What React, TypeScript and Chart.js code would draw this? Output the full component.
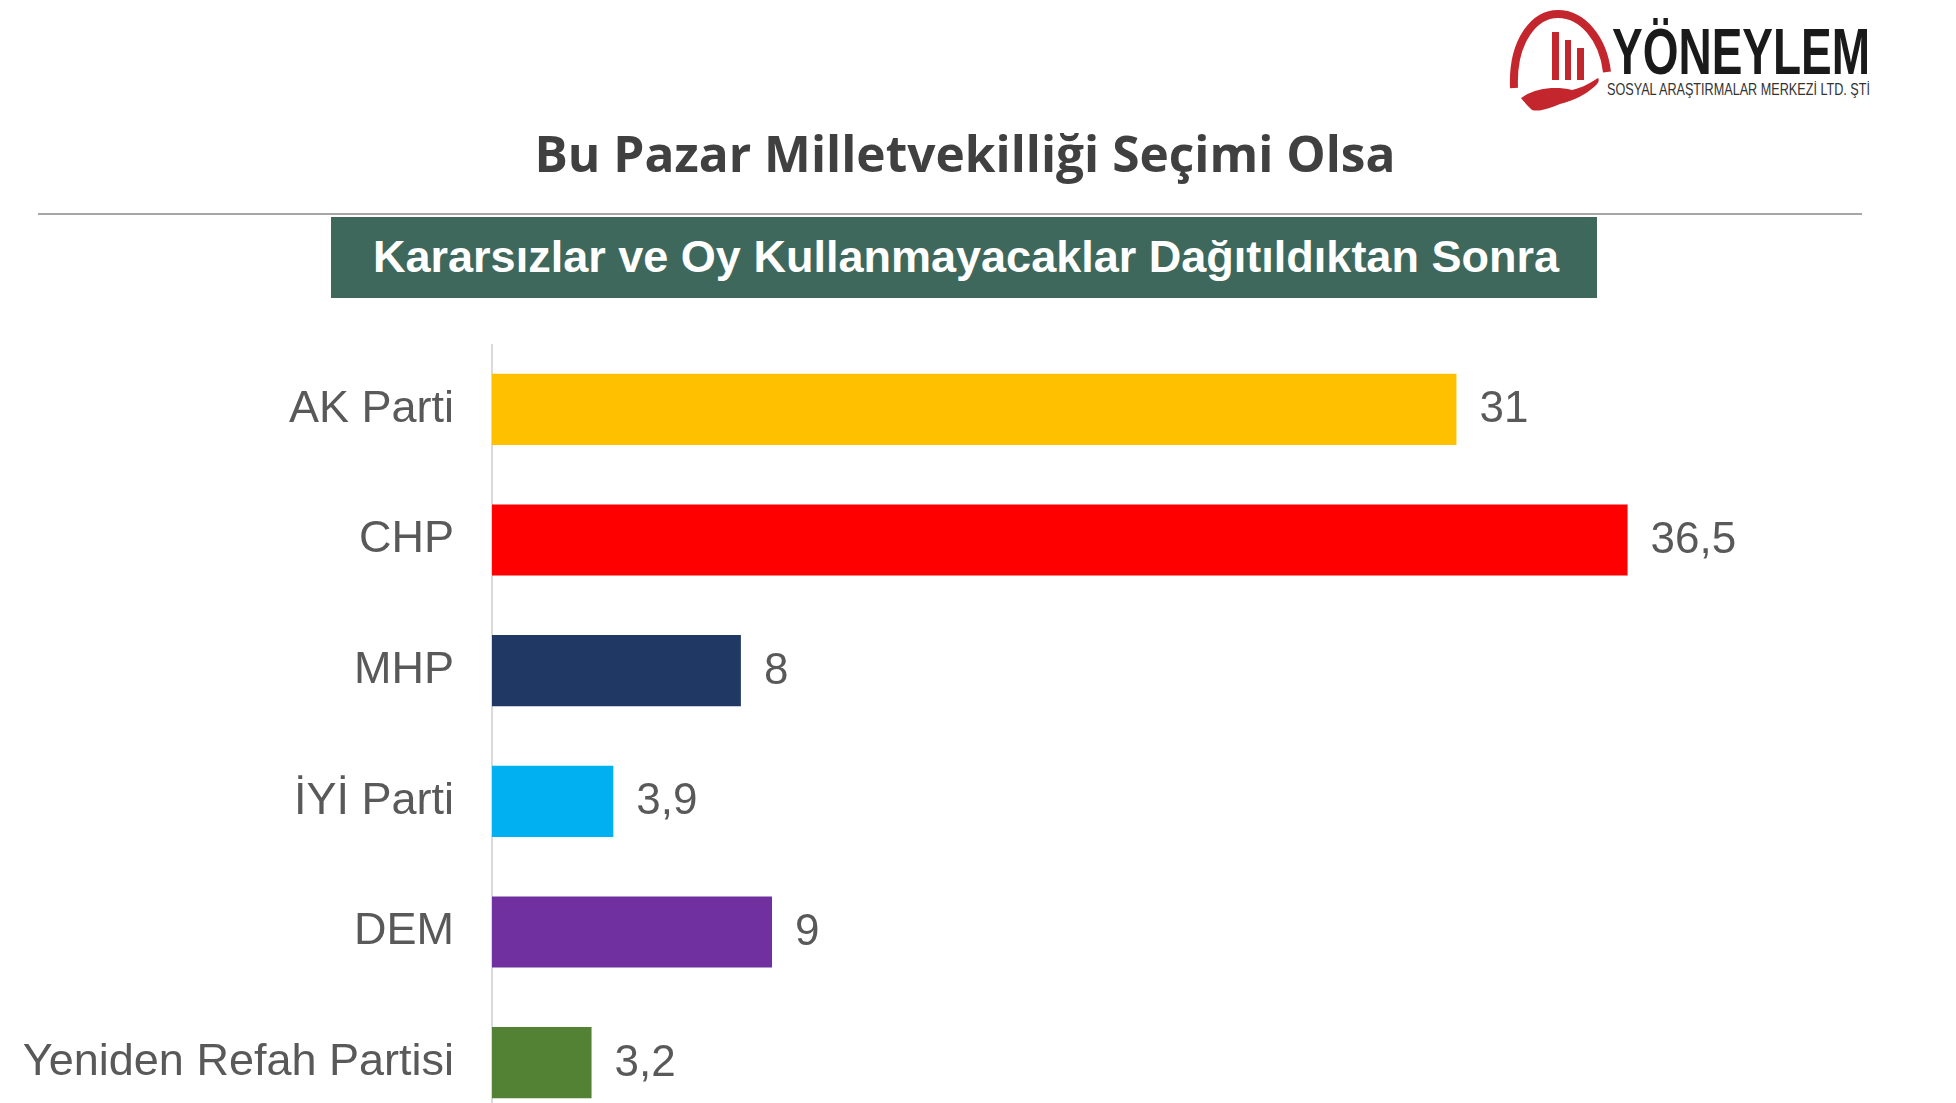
import React, { useEffect, useRef } from "react";
import { Chart, registerables } from "chart.js";

Chart.register(...registerables);

const categories = ["AK Parti", "CHP", "MHP", "İYİ Parti", "DEM", "Yeniden Refah Partisi"];
const values = [31, 36.5, 8, 3.9, 9, 3.2];
const barColors = ["#FFC000", "#FF0000", "#1F3864", "#00B0F0", "#7030A0", "#548235"];
const axisMax = 45;
const titleText = "Bu Pazar Milletvekilliği Seçimi Olsa";
const bannerText = "Kararsızlar ve Oy Kullanmayacaklar Dağıtıldıktan Sonra";
const logoName = "YÖNEYLEM";
const logoSub = "SOSYAL ARAŞTIRMALAR MERKEZİ LTD. ŞTİ";

const fmt = (v: number) => String(v).replace(".", ",");

const valueLabelPlugin = {
  id: "valueLabels",
  afterDatasetsDraw(chart: any) {
    const ctx = chart.ctx;
    const meta = chart.getDatasetMeta(0);
    ctx.save();
    ctx.font = "44px 'Liberation Sans', Arial, sans-serif";
    ctx.fillStyle = "#595959";
    ctx.textAlign = "left";
    ctx.textBaseline = "middle";
    meta.data.forEach((bar: any, i: number) => {
      ctx.fillText(fmt(values[i]), bar.x + 23, bar.y + 1);
    });
    ctx.restore();
  },
};

export default function App() {
  const canvasRef = useRef<HTMLCanvasElement | null>(null);

  useEffect(() => {
    if (!canvasRef.current) return;
    const chart = new Chart(canvasRef.current, {
      type: "bar",
      data: {
        labels: categories,
        datasets: [
          {
            data: values,
            backgroundColor: barColors,
            borderWidth: 0,
            barPercentage: 0.545,
            categoryPercentage: 1,
          },
        ],
      },
      options: {
        indexAxis: "y",
        animation: false,
        responsive: false,
        maintainAspectRatio: false,
        devicePixelRatio: 1,
        layout: { padding: { left: 0, right: 64, top: 0, bottom: 0 } },
        plugins: {
          legend: { display: false },
          tooltip: { enabled: false },
          title: { display: false },
        },
        scales: {
          x: { min: 0, max: axisMax, display: false },
          y: {
            type: "category",
            grid: { display: false, drawTicks: false },
            border: { display: true, color: "#D9D9D9", width: 2 },
            ticks: {
              padding: 38,
              color: "#595959",
              font: { family: "'Liberation Sans', Arial, sans-serif", size: 45 },
            },
            afterFit: (scale: any) => {
              scale.width = 492;
              scale.paddingTop = 0;
              scale.paddingBottom = 0;
            },
          },
        },
      },
      plugins: [valueLabelPlugin],
    } as any);
    return () => chart.destroy();
  }, []);

  return (
    <div
      style={{
        position: "absolute",
        left: 0,
        top: 0,
        width: 1956,
        height: 1103,
        overflow: "hidden",
        background: "#FFFFFF",
      }}
    >
      <svg
        width={1956}
        height={344}
        style={{ position: "absolute", left: 0, top: 0 }}
        viewBox="0 0 1956 344"
      >
        {/* logo */}
        <path
          d="M1514,88 C1512,40 1535,14 1558,14 C1582,14 1603,38 1607,72"
          fill="none"
          stroke="#C4262E"
          strokeWidth={8}
        />
        <rect x={1552} y={32} width={7} height={48} fill="#C4262E" />
        <rect x={1565} y={40} width={6} height={40} fill="#C4262E" />
        <rect x={1577} y={48} width={7} height={32} fill="#C4262E" />
        <path
          d="M1521,98 C1535,88 1555,86 1572,90 C1582,88 1592,82 1598,78 C1600,80 1598,84 1594,87 C1585,95 1575,100 1560,104 C1550,108 1540,112 1532,110 C1528,106 1524,102 1521,98 Z"
          fill="#C4262E"
        />
        <text
          x={1612}
          y={74}
          fontFamily="'Liberation Sans', Arial, sans-serif"
          fontWeight="bold"
          fontSize={64}
          fill="#1A1A1A"
          textLength={258}
          lengthAdjust="spacingAndGlyphs"
        >
          {logoName}
        </text>
        <text
          x={1607}
          y={95}
          fontFamily="'Liberation Sans', Arial, sans-serif"
          fontSize={17}
          fill="#333333"
          textLength={263}
          lengthAdjust="spacingAndGlyphs"
        >
          {logoSub}
        </text>
        {/* title */}
        <text
          x={965}
          y={172}
          textAnchor="middle"
          fontFamily="'Open Sans', sans-serif"
          fontWeight="bold"
          fontSize={51}
          fill="#404040"
          textLength={861}
          lengthAdjust="spacingAndGlyphs"
        >
          {titleText}
        </text>
        {/* separator line */}
        <rect x={38} y={213} width={1824} height={2} fill="#A6A6A6" />
        {/* banner */}
        <rect x={331} y={217} width={1266} height={81} fill="#3F685D" />
        <text
          x={966}
          y={272}
          textAnchor="middle"
          fontFamily="'Liberation Sans', Arial, sans-serif"
          fontWeight="bold"
          fontSize={44}
          fill="#FFFFFF"
          textLength={1186}
          lengthAdjust="spacingAndGlyphs"
        >
          {bannerText}
        </text>
      </svg>
      <canvas
        ref={canvasRef}
        width={1956}
        height={784}
        style={{ position: "absolute", left: 0, top: 344, width: 1956, height: 784 }}
      />
    </div>
  );
}
